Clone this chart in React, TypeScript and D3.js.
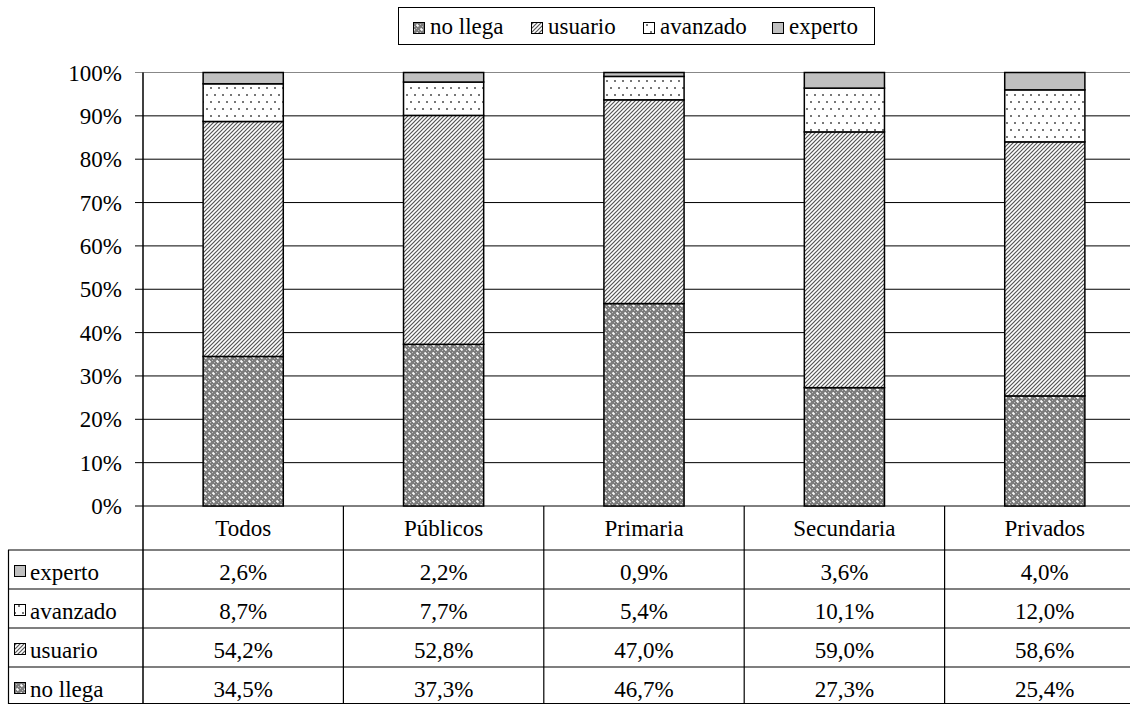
import React from 'react';
import * as d3 from 'd3';

const categories = ['Todos', 'Públicos', 'Primaria', 'Secundaria', 'Privados'];
const noLlega = [34.5, 37.3, 46.7, 27.3, 25.4];
const usuario = [54.2, 52.8, 47.0, 59.0, 58.6];
const avanzado = [8.7, 7.7, 5.4, 10.1, 12.0];
const experto = [2.6, 2.2, 0.9, 3.6, 4.0];
const yTicks = [0, 10, 20, 30, 40, 50, 60, 70, 80, 90, 100];

const series = [
    { key: 'nollega', label: 'no llega', values: noLlega, fill: 'url(#pNoLlega)' },
    { key: 'usuario', label: 'usuario', values: usuario, fill: 'url(#pUsuario)' },
    { key: 'avanzado', label: 'avanzado', values: avanzado, fill: 'url(#pAvanzado)' },
    { key: 'experto', label: 'experto', values: experto, fill: '#c0c0c0' },
];

const fmt = (v: number) => v.toFixed(1).replace('.', ',') + '%';
const FONT = '"Liberation Serif", "DejaVu Serif"';

const T = (props: any) => (
    <text fontFamily={FONT} fontSize={23} {...props} style={{ fontFamily: FONT }} />
);

const App = () => {
    const W = 1130, H = 704;
    const left = 143, right = 1145;
    const top = 72.5, bottom = 506;
    const rowTops = [550, 589, 628, 667];

    const x = d3.scaleBand<string>().domain(categories).range([left, right]).paddingInner(0).paddingOuter(0);
    const y = d3.scaleLinear().domain([0, 100]).range([bottom, top]);
    const barW = x.bandwidth() * 0.4;

    const stackData = categories.map((c, i) => {
        const row: any = { cat: c };
        series.forEach(s => { row[s.key] = s.values[i]; });
        return row;
    });
    const stacked = d3.stack().keys(series.map(s => s.key))(stackData);

    const tableRows = [...series].reverse();

    const swatch = (s: any, sx: number, sy: number) => (
        <rect x={sx} y={sy} width={11} height={11} fill={s.fill} stroke="#000" strokeWidth={1} />
    );

    const legendSwatchX = [413, 531, 643, 772];

    return (
        <svg width={W} height={H} style={{ position: 'absolute', left: 0, top: 0, background: '#fff' }}>
            <defs>
                <pattern id="pNoLlega" width={8} height={8} patternUnits="userSpaceOnUse">
                    <rect width={8} height={8} fill="#7c7c7c" />
                    {d3.range(16).map(k => {
                        const cx = k % 4, cy = Math.floor(k / 4);
                        return (cx + cy) % 2 === 0 ? <rect key={k} x={cx * 2} y={cy * 2} width={1} height={1} fill="#bdbdbd" /> : null;
                    })}
                    <rect x={1} y={0} width={1} height={3} fill="#fff" opacity={0.8} />
                    <rect x={0} y={1} width={3} height={1} fill="#fff" opacity={0.8} />
                    <rect x={5} y={4} width={1} height={3} fill="#fff" opacity={0.8} />
                    <rect x={4} y={5} width={3} height={1} fill="#fff" opacity={0.8} />
                </pattern>
                <pattern id="pUsuario" width={4} height={4} patternUnits="userSpaceOnUse">
                    <rect width={4} height={4} fill="#fff" />
                    <path d="M-1,1 L1,-1 M0,4 L4,0 M3,5 L5,3" stroke="#555" strokeWidth={1.2} />
                </pattern>
                <pattern id="pAvanzado" width={8} height={14} patternUnits="userSpaceOnUse">
                    <rect width={8} height={14} fill="#fff" />
                    <rect x={2} y={3} width={2} height={2} fill="#777" />
                    <rect x={6} y={10} width={2} height={2} fill="#777" />
                </pattern>
            </defs>

            {/* legend */}
            <rect x={398.5} y={7.5} width={476} height={37} fill="#fff" stroke="#000" strokeWidth={1} />
            {series.map((s, i) => (
                <g key={s.key}>
                    {swatch(s, legendSwatchX[i] + 0.5, 22.5)}
                    <T x={legendSwatchX[i] + 17} y={34}>{s.label}</T>
                </g>
            ))}

            {/* gridlines and ticks */}
            {yTicks.map(t => (
                <g key={t}>
                    <line x1={135} x2={right} y1={y(t)} y2={y(t)} stroke={t === 100 ? '#888' : '#000'} strokeWidth={1} />
                    <T x={122} y={y(t) + 8} textAnchor="end">{t}%</T>
                </g>
            ))}

            {/* bars */}
            {stacked.map((layer, li) => (
                <g key={layer.key}>
                    {layer.map((d, i) => (
                        <rect key={i} x={x(categories[i])! + (x.bandwidth() - barW) / 2} y={y(d[1])}
                            width={barW} height={y(d[0]) - y(d[1])}
                            fill={series[li].fill} stroke="#000" strokeWidth={1.5} />
                    ))}
                </g>
            ))}

            {/* axis line */}
            <line x1={left} x2={left} y1={top} y2={H} stroke="#000" strokeWidth={1.5} />

            {/* data table */}
            {rowTops.map(r => (
                <line key={r} x1={8} x2={right} y1={r} y2={r} stroke="#000" strokeWidth={1.2} />
            ))}
            <line x1={8} x2={right} y1={H - 0.5} y2={H - 0.5} stroke="#000" strokeWidth={1} />
            <line x1={8.5} x2={8.5} y1={rowTops[0]} y2={H} stroke="#000" strokeWidth={1.2} />
            {categories.map(c => (
                <line key={c} x1={x(c)! + x.bandwidth()} x2={x(c)! + x.bandwidth()} y1={bottom} y2={H} stroke="#000" strokeWidth={1.2} />
            ))}
            {categories.map(c => (
                <T key={c} x={x(c)! + x.bandwidth() / 2} y={536} textAnchor="middle">{c}</T>
            ))}
            {tableRows.map((s, ri) => (
                <g key={s.key}>
                    {swatch(s, 14.5, rowTops[ri] + 15.5)}
                    <T x={30} y={rowTops[ri] + 30}>{s.label}</T>
                    {categories.map((c, i) => (
                        <T key={c} x={x(c)! + x.bandwidth() / 2} y={rowTops[ri] + 30} textAnchor="middle">{fmt(s.values[i])}</T>
                    ))}
                </g>
            ))}
        </svg>
    );
};

export default App;
